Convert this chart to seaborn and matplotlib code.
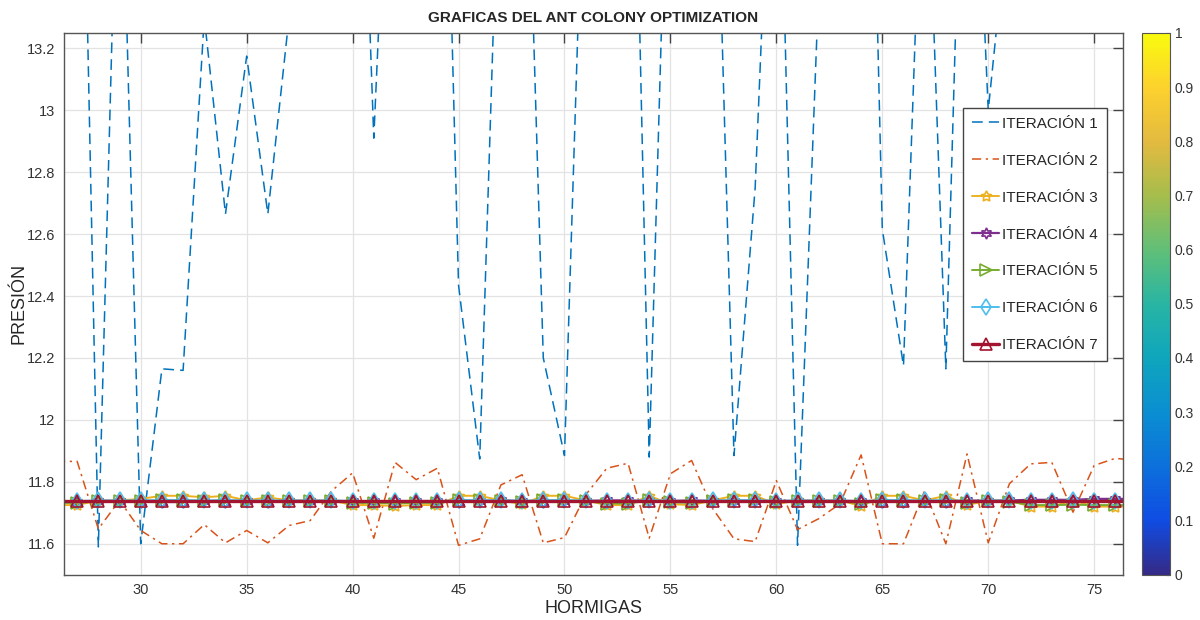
import numpy as np
import pandas as pd
import matplotlib
matplotlib.use("Agg")
import matplotlib.pyplot as plt
import seaborn as sns
from matplotlib.colors import LinearSegmentedColormap, Normalize
from matplotlib.cm import ScalarMappable

# ants (x axis)
hormigas = list(range(26, 78))

iter1 = [14.50, 14.87, 11.59, 14.15, 11.60, 12.165, 12.16, 13.30, 12.665, 13.175,
         12.665, 13.30, 14.20, 14.60, 14.83, 12.91, 14.45, 14.70, 15.06, 12.435,
         11.874, 14.04, 14.49, 12.20, 11.885, 14.06, 14.50, 14.96, 11.88, 14.28,
         14.60, 14.30, 11.885, 12.75, 14.40, 11.595, 13.40, 14.80, 15.50, 12.616,
         12.175, 14.10, 12.165, 14.55, 13.00, 13.67, 14.30, 14.90, 14.20, 14.60,
         14.40, 14.10]
iter2 = [11.866, 11.866, 11.648, 11.740, 11.643, 11.600, 11.600, 11.662, 11.603, 11.643,
         11.603, 11.659, 11.675, 11.770, 11.829, 11.618, 11.863, 11.807, 11.844, 11.595,
         11.616, 11.790, 11.823, 11.603, 11.620, 11.758, 11.844, 11.860, 11.618, 11.826,
         11.869, 11.713, 11.616, 11.607, 11.804, 11.646, 11.681, 11.729, 11.887, 11.600,
         11.600, 11.772, 11.600, 11.890, 11.603, 11.794, 11.858, 11.863, 11.702, 11.853,
         11.876, 11.869]
iter3 = [11.725, 11.725, 11.740, 11.740, 11.745, 11.755, 11.755, 11.750, 11.755, 11.740,
         11.750, 11.740, 11.740, 11.740, 11.725, 11.725, 11.722, 11.725, 11.725, 11.755,
         11.755, 11.740, 11.728, 11.755, 11.755, 11.740, 11.725, 11.725, 11.755, 11.728,
         11.725, 11.740, 11.755, 11.755, 11.728, 11.740, 11.740, 11.740, 11.722, 11.755,
         11.755, 11.740, 11.755, 11.725, 11.740, 11.740, 11.720, 11.720, 11.740, 11.720,
         11.720, 11.720]
iter4 = [11.735, 11.735, 11.738, 11.738, 11.736, 11.735, 11.735, 11.737, 11.735, 11.738,
         11.735, 11.738, 11.738, 11.738, 11.738, 11.737, 11.738, 11.738, 11.738, 11.735,
         11.737, 11.740, 11.738, 11.735, 11.737, 11.738, 11.740, 11.740, 11.738, 11.738,
         11.740, 11.738, 11.738, 11.738, 11.738, 11.738, 11.738, 11.738, 11.738, 11.736,
         11.736, 11.738, 11.736, 11.740, 11.738, 11.740, 11.742, 11.742, 11.742, 11.745,
         11.745, 11.745]
iter5 = [11.732, 11.732, 11.738, 11.738, 11.738, 11.740, 11.740, 11.738, 11.740, 11.738,
         11.738, 11.738, 11.738, 11.738, 11.732, 11.732, 11.730, 11.732, 11.732, 11.740,
         11.740, 11.738, 11.734, 11.740, 11.740, 11.738, 11.730, 11.730, 11.740, 11.734,
         11.732, 11.738, 11.740, 11.740, 11.734, 11.738, 11.738, 11.738, 11.730, 11.740,
         11.740, 11.738, 11.740, 11.732, 11.738, 11.736, 11.725, 11.725, 11.726, 11.725,
         11.725, 11.725]
iter6 = [11.738, 11.738, 11.740, 11.740, 11.740, 11.741, 11.741, 11.740, 11.741, 11.740,
         11.740, 11.740, 11.740, 11.740, 11.738, 11.738, 11.738, 11.738, 11.738, 11.741,
         11.741, 11.740, 11.739, 11.741, 11.741, 11.740, 11.738, 11.738, 11.741, 11.739,
         11.738, 11.740, 11.741, 11.741, 11.739, 11.740, 11.740, 11.740, 11.738, 11.741,
         11.741, 11.740, 11.741, 11.738, 11.740, 11.740, 11.737, 11.737, 11.740, 11.737,
         11.737, 11.737]
iter7 = [11.739, 11.739, 11.739, 11.739, 11.739, 11.739, 11.739, 11.739, 11.739, 11.739,
         11.739, 11.739, 11.739, 11.739, 11.739, 11.739, 11.739, 11.739, 11.739, 11.739,
         11.739, 11.739, 11.739, 11.739, 11.739, 11.739, 11.739, 11.739, 11.739, 11.739,
         11.739, 11.739, 11.739, 11.739, 11.739, 11.739, 11.739, 11.739, 11.739, 11.739,
         11.739, 11.739, 11.739, 11.739, 11.739, 11.739, 11.739, 11.739, 11.739, 11.739,
         11.739, 11.739]

labels = ["ITERACIÓN 1", "ITERACIÓN 2", "ITERACIÓN 3", "ITERACIÓN 4",
          "ITERACIÓN 5", "ITERACIÓN 6", "ITERACIÓN 7"]
series = [iter1, iter2, iter3, iter4, iter5, iter6, iter7]

x_ticks = [30, 35, 40, 45, 50, 55, 60, 65, 70, 75]
y_ticks = [11.6, 11.8, 12.0, 12.2, 12.4, 12.6, 12.8, 13.0, 13.2]
y_tick_labels = ["11.6", "11.8", "12", "12.2", "12.4", "12.6", "12.8", "13", "13.2"]
cbar_ticks = [0, 0.1, 0.2, 0.3, 0.4, 0.5, 0.6, 0.7, 0.8, 0.9, 1]
cbar_tick_labels = ["0", "0.1", "0.2", "0.3", "0.4", "0.5", "0.6", "0.7", "0.8", "0.9", "1"]

# MATLAB-like line styles
styles = [
    dict(color=(0.0, 0.447, 0.741), linestyle=(0, (7, 4)), lw=1.1),
    dict(color=(0.85, 0.325, 0.098), linestyle=(0, (6, 3, 1.5, 3)), lw=1.1),
    dict(color=(0.929, 0.694, 0.125), marker=(5, 1, 0), lw=1.4),
    dict(color=(0.494, 0.184, 0.556), marker=(6, 1, 0), lw=1.6),
    dict(color=(0.466, 0.674, 0.188), marker=">", lw=1.4),
    dict(color=(0.301, 0.745, 0.933), marker="d", lw=1.4),
    dict(color=(0.635, 0.078, 0.184), marker="^", lw=2.4),
]

parula = LinearSegmentedColormap.from_list("parula", [
    (0.208, 0.166, 0.529), (0.060, 0.300, 0.890), (0.050, 0.440, 0.860),
    (0.040, 0.560, 0.820), (0.060, 0.650, 0.740), (0.160, 0.710, 0.640),
    (0.380, 0.750, 0.470), (0.650, 0.740, 0.300), (0.890, 0.730, 0.250),
    (0.990, 0.820, 0.180), (0.976, 0.983, 0.054)])

sns.set_style("whitegrid")
plt.rcParams["font.family"] = ["Liberation Sans", "DejaVu Sans"]

fig = plt.figure(figsize=(12, 6.2), dpi=100)
ax = fig.add_axes([0.053, 0.073, 0.883, 0.874])
cax = fig.add_axes([0.952, 0.073, 0.023, 0.874])

for vals, lab, st in zip(series, labels, styles):
    df = pd.DataFrame({"HORMIGAS": hormigas, "PRESION": vals})
    kw = dict(st)
    if "marker" in kw:
        kw.update(markersize=8, markerfacecolor="none", markeredgecolor=st["color"],
                  markeredgewidth=1.2)
    sns.lineplot(data=df, x="HORMIGAS", y="PRESION", ax=ax, label=lab, **kw)

ax.set_xlim(26.36, 76.37)
ax.set_ylim(11.5, 13.25)
ax.set_xticks(x_ticks)
ax.set_yticks(y_ticks)
ax.set_yticklabels(y_tick_labels)
ax.grid(True, color="#e3e3e3", lw=0.9)
for sp in ax.spines.values():
    sp.set_color("#555555")
    sp.set_linewidth(1.0)
ax.tick_params(direction="in", length=7, width=1, colors="#444444",
               top=True, right=True, labelsize=10.5, labelcolor="#333333", pad=6)

ax.set_title("GRAFICAS DEL ANT COLONY OPTIMIZATION", fontsize=11, fontweight="bold", pad=8)
ax.set_xlabel("HORMIGAS", fontsize=13, color="#262626", labelpad=2)
ax.set_ylabel("PRESIÓN", fontsize=13, color="#262626", labelpad=0)
ax.yaxis.set_label_coords(-0.034, 0.5)

leg = ax.legend(loc="upper right", bbox_to_anchor=(0.985, 0.862), borderaxespad=0,
                fontsize=11, labelspacing=1.5, handlelength=1.8, handletextpad=0.2,
                borderpad=0.6, fancybox=False, framealpha=1, edgecolor="#444444")
leg.get_frame().set_linewidth(1.0)

sm = ScalarMappable(norm=Normalize(0, 1), cmap=parula)
cb = fig.colorbar(sm, cax=cax, ticks=cbar_ticks)
cb.ax.set_yticklabels(cbar_tick_labels)
cb.ax.tick_params(direction="in", length=3, labelsize=10, labelcolor="#333333")
cb.outline.set_edgecolor("#555555")

fig.savefig("out.png", dpi=100)
